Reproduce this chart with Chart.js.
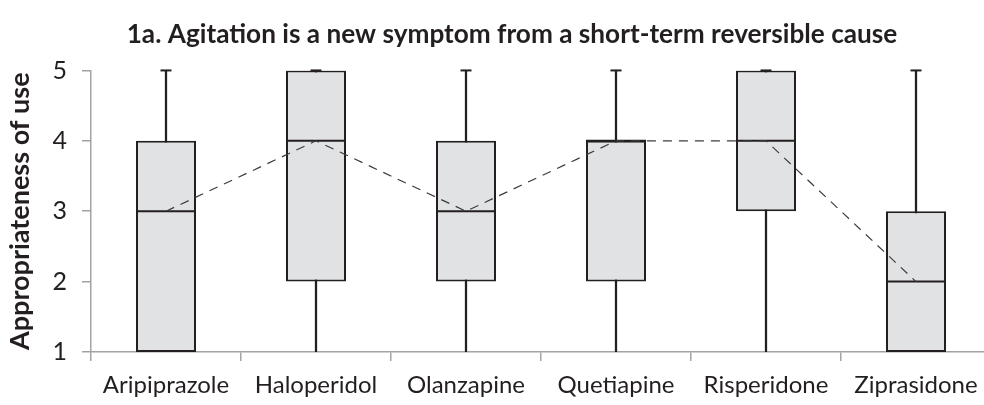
<!DOCTYPE html>
<html>
<head>
<meta charset="utf-8">
<script src="https://cdn.jsdelivr.net/npm/chart.js@4.4.1/dist/chart.umd.min.js"></script>
<style>
  html, body { margin: 0; padding: 0; overflow: hidden; background: #fff; }
  #wrap { width: 1024px; height: 405px; }
</style>
</head>
<body>
<div id="wrap"><canvas id="box-chartcanvas" width="1024" height="405"></canvas></div>
<script>
// categories and five-number summaries
var drugs = ["Aripiprazole", "Haloperidol", "Olanzapine", "Quetiapine", "Risperidone", "Ziprasidone"];
var mins    = [1, 1, 1, 1, 1, 1];
var q1s     = [1, 2, 2, 2, 3, 1];
var medians = [3, 4, 3, 4, 4, 2];
var q3s     = [4, 5, 4, 4, 5, 3];
var maxs    = [5, 5, 5, 5, 5, 5];
var yTicks  = [1, 2, 3, 4, 5];

var ink = "#231f20";
var axisGrey = "#a3a3a3";

// build floating bar ranges for the library
var whiskerRanges = drugs.map(function(d, i){ return [mins[i], maxs[i]]; });
var boxRanges = drugs.map(function(d, i){ return [q1s[i], q3s[i]]; });

var data = {
    labels: drugs,
    datasets: [
        {
            // dashed line joining medians
            type: "line",
            data: medians,
            borderColor: "#3c3c3c",
            borderWidth: 1.2,
            borderDash: [9, 7],
            pointRadius: 0,
            tension: 0,
            fill: false,
            clip: false,
            order: 1
        },
        {
            // medians
            type: "line",
            data: medians,
            showLine: false,
            pointStyle: "line",
            pointRadius: 30,
            pointBorderWidth: 2,
            pointBorderColor: ink,
            clip: false,
            order: 2
        },
        {
            // whisker caps
            type: "line",
            data: maxs,
            showLine: false,
            pointStyle: "line",
            pointRadius: 5.5,
            pointBorderWidth: 2,
            pointBorderColor: ink,
            clip: false,
            order: 2
        },
        {
            // boxes q1..q3
            type: "bar",
            data: boxRanges,
            backgroundColor: "#e1e2e4",
            borderColor: ink,
            borderWidth: 2,
            borderSkipped: false,
            grouped: false,
            barPercentage: 0.4,
            categoryPercentage: 1,
            order: 3
        },
        {
            // whiskers min..max
            type: "bar",
            data: whiskerRanges,
            backgroundColor: ink,
            borderWidth: 0,
            barThickness: 1.6,
            grouped: false,
            categoryPercentage: 1,
            order: 4
        }
    ]
};

// symmetric side padding keeps the title centred where the original has it
var options = {
    responsive: false,
    animation: false,
    layout: { autoPadding: false, padding: { left: 33, right: 33, top: 0, bottom: 0 } },
    plugins: {
        legend: { display: false },
        tooltip: { enabled: false },
        title: {
            display: true,
            text: "1a. Agitation is a new symptom from a short-term reversible cause",
            color: ink,
            font: { family: "Lato", size: 26.2, weight: "bold" },
            padding: { top: 19, bottom: 20 }
        }
    },
    scales: {
        x: {
            type: "category",
            offset: true,
            grid: {
                offset: true,
                drawOnChartArea: false,
                color: axisGrey,
                lineWidth: 1.5,
                tickLength: 9
            },
            border: { color: axisGrey, width: 1.5 },
            ticks: {
                color: ink,
                padding: 10,
                font: { family: "Lato", size: 24 },
                maxRotation: 0
            },
            afterFit: function(scale){
                scale.height = 53;
                scale.paddingLeft = 0;
                scale.paddingRight = 0;
            }
        },
        y: {
            min: 1,
            max: 5,
            afterBuildTicks: function(scale){
                scale.ticks = yTicks.map(function(v){ return { value: v }; });
            },
            grid: {
                drawOnChartArea: false,
                color: axisGrey,
                lineWidth: 1.5,
                tickLength: 9
            },
            border: { color: axisGrey, width: 1.5 },
            ticks: {
                color: ink,
                padding: 15,
                font: { family: "Lato", size: 25 }
            },
            title: {
                display: true,
                text: "Appropriateness of use",
                color: ink,
                font: { family: "Lato", size: 27, weight: "bold" },
                padding: { top: -29, bottom: 0 }
            },
            afterFit: function(scale){ scale.width = 58; }
        }
    }
};

var chart1 = new Chart(document.getElementById("box-chartcanvas"), {
    type: "bar",
    data: data,
    options: options
});
</script>
</body>
</html>
